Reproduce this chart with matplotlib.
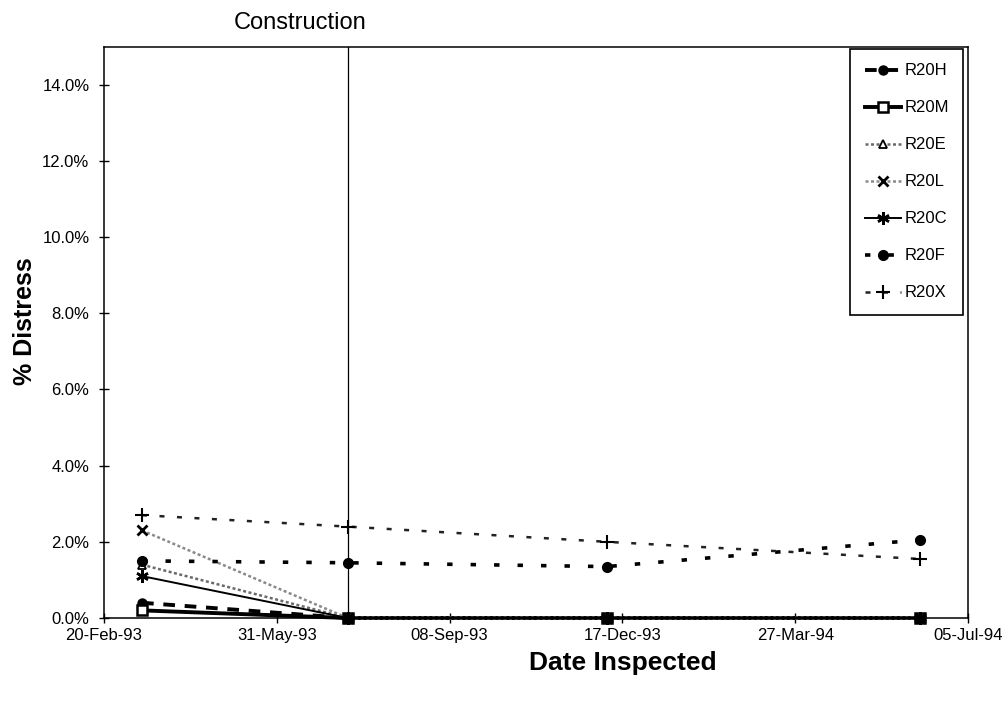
import matplotlib
matplotlib.use("Agg")
import matplotlib.pyplot as plt
import matplotlib.dates as mdates
from matplotlib.ticker import FuncFormatter
import datetime as dt

plt.rcParams['font.family'] = ['Liberation Sans', 'DejaVu Sans']

# ---- data ----
dates = [dt.date(1993, 3, 14), dt.date(1993, 7, 11), dt.date(1993, 12, 8), dt.date(1994, 6, 7)]
construction_date = dt.date(1993, 7, 11)
series_names = ["R20H", "R20M", "R20E", "R20L", "R20C", "R20F", "R20X"]
r20h = [0.004, 0.0, 0.0, 0.0]
r20m = [0.002, 0.0, 0.0, 0.0]
r20e = [0.014, 0.0, 0.0, 0.0]
r20l = [0.023, 0.0, 0.0, 0.0]
r20c = [0.011, 0.0, 0.0, 0.0]
r20f = [0.015, 0.0145, 0.0135, 0.0205]
r20x = [0.027, 0.024, 0.020, 0.0155]
xtick_dates = [dt.date(1993, 2, 20), dt.date(1993, 5, 31), dt.date(1993, 9, 8),
               dt.date(1993, 12, 17), dt.date(1994, 3, 27), dt.date(1994, 7, 5)]
yticks = [0.0, 0.02, 0.04, 0.06, 0.08, 0.10, 0.12, 0.14]

values = [r20h, r20m, r20e, r20l, r20c, r20f, r20x]
styles = [
    dict(color='black', lw=2.8, ls=(0, (3, 2.5)), marker='o', ms=6.5, mfc='black', mec='black'),
    dict(color='black', lw=2.8, ls='-', marker='s', ms=7, mfc='white', mec='black', mew=1.8),
    dict(color='#6a6a6a', lw=1.8, ls=(0, (1.2, 1)), marker='^', ms=6, mfc='white', mec='black', mew=1.3),
    dict(color='#8a8a8a', lw=1.8, ls=(0, (1.2, 1)), marker='x', ms=7, mec='black', mew=2),
    dict(color='black', lw=1.4, ls='-', marker=(6, 2, 0), ms=9, mec='black', mew=1.8),
    dict(color='black', lw=2.6, ls=(0, (1.5, 5)), marker='o', ms=7, mfc='black', mec='black'),
    dict(color='#222222', lw=1.8, ls=(0, (2, 5)), marker='+', ms=10, mec='black', mew=1.5),
]

fig = plt.figure(figsize=(10.04, 7.04), dpi=100)
ax = fig.add_axes([104/1004, 1 - 618/704, (968 - 104)/1004, (618 - 46.7)/704])

for name, vals, st in zip(series_names, values, styles):
    ax.plot(dates, vals, label=name, clip_on=False, **st)

ax.axvline(construction_date, color='black', lw=0.9)
ax.annotate("Construction", xy=(mdates.date2num(construction_date), 1.0),
            xycoords=('data', 'axes fraction'), xytext=(-34, 17),
            textcoords='offset points', ha='center', va='center', fontsize=17)

ax.set_xlim(mdates.date2num(xtick_dates[0]), mdates.date2num(xtick_dates[-1]))
ax.set_xticks([mdates.date2num(d) for d in xtick_dates])
ax.set_xticklabels([d.strftime("%d-%b-%y") for d in xtick_dates])
ax.set_ylim(0, 0.15)
ax.set_yticks(yticks)
ax.yaxis.set_major_formatter(FuncFormatter(lambda v, p: f"{v*100:.1f}%"))
ax.tick_params(axis='both', direction='inout', length=7, width=1, labelsize=12)
ax.tick_params(axis='y', pad=7)
ax.tick_params(axis='x', pad=4)

for sp in ax.spines.values():
    sp.set_linewidth(1.1)
    sp.set_color('black')
    sp.set_zorder(5)

ax.set_xlabel("Date Inspected", fontsize=19, fontweight='bold')
ax.xaxis.set_label_coords(0.6, -0.057)
ax.set_ylabel("% Distress", fontsize=18, fontweight='bold')
ax.yaxis.set_label_coords(-0.077, 0.52)

leg = ax.legend(loc='upper right', bbox_to_anchor=(0.9965, 0.9985), fontsize=12,
                frameon=True, fancybox=False, edgecolor='black', framealpha=1,
                handlelength=2.2, handletextpad=0.2, labelspacing=1.32,
                borderpad=0.85, borderaxespad=0.1)
leg.get_frame().set_linewidth(1.2)
leg.set_zorder(10)

fig.savefig("out.png", dpi=100, facecolor='white')
